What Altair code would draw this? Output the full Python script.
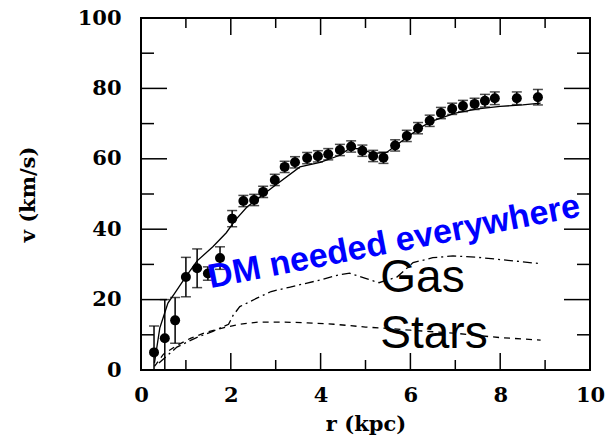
import altair as alt
import pandas as pd

# Observed rotation velocities (km/s) and their uncertainties
r_obs = [0.29, 0.53, 0.76, 1.00, 1.25, 1.49, 1.76, 2.03, 2.28, 2.52, 2.72, 2.98,
         3.20, 3.43, 3.70, 3.94, 4.17, 4.43, 4.68, 4.93, 5.17, 5.40, 5.66, 5.92,
         6.17, 6.43, 6.68, 6.93, 7.17, 7.43, 7.66, 7.88, 8.37, 8.84]
v_obs = [5.0, 9.0, 14.1, 26.4, 28.9, 27.4, 31.8, 43.0, 48.0, 48.3, 50.6, 54.0,
         57.7, 59.0, 60.2, 60.7, 61.3, 62.5, 63.5, 62.3, 60.8, 60.3, 63.8, 66.5,
         68.7, 70.8, 73.0, 74.2, 75.0, 75.6, 76.5, 77.2, 77.2, 77.5]
v_err = [7.5, 11.0, 6.5, 5.6, 5.5, 1.9, 3.2, 2.3, 1.6, 1.6, 1.6, 1.6,
         1.6, 1.6, 1.6, 1.6, 1.6, 1.6, 1.6, 1.6, 1.6, 1.6, 1.6, 1.6,
         1.6, 1.6, 1.6, 1.6, 1.6, 1.6, 1.8, 1.8, 1.8, 2.2]

# Total model fit
r_fit = [0.30, 0.42, 0.60, 0.76, 1.00, 1.25, 1.60, 1.90, 2.10, 2.36, 2.94, 3.54,
         3.99, 4.43, 4.65, 4.90, 5.17, 5.47, 5.70, 6.00, 6.28, 6.50, 7.00, 7.50,
         8.00, 8.50, 8.90]
v_fit = [2.0, 12.0, 19.0, 22.0, 26.5, 31.0, 35.0, 39.0, 42.6, 46.3, 52.0, 57.7,
         59.0, 61.0, 63.0, 62.8, 61.5, 61.8, 64.0, 66.8, 69.3, 70.8, 73.0, 74.2,
         74.9, 75.3, 75.8]

# Gas contribution
r_gas = [0.40, 0.80, 1.20, 1.60, 1.95, 2.05, 2.20, 2.58, 2.90, 3.30, 3.70, 4.00,
         4.40, 4.65, 5.00, 5.30, 5.70, 6.06, 6.50, 6.95, 7.50, 8.06, 8.90]
v_gas = [2.0, 6.5, 9.0, 11.0, 13.0, 15.5, 18.0, 20.4, 22.3, 23.5, 24.7, 25.6,
         27.0, 27.5, 26.0, 24.8, 26.4, 30.5, 31.9, 32.4, 32.0, 31.3, 30.2]

# Stellar contribution
r_star = [0.30, 0.50, 0.80, 1.10, 1.47, 1.90, 2.20, 2.60, 3.20, 3.70, 4.30, 5.00,
          5.50, 6.00, 6.95, 7.50, 8.00, 8.90]
v_star = [1.0, 4.5, 7.0, 9.0, 10.8, 12.2, 13.0, 13.6, 13.6, 13.4, 13.0, 12.2,
          11.8, 11.3, 10.5, 9.8, 9.2, 8.5]

# Axis tick values
x_major = [0, 2, 4, 6, 8, 10]
x_minor = [1, 3, 5, 7, 9]
y_major = [0, 20, 40, 60, 80, 100]
y_minor = [10, 30, 50, 70, 90]

W, H = 449, 352
AXIS_FONT = "DejaVu Serif"

obs = pd.DataFrame({"r": r_obs, "v": v_obs, "err": v_err})
obs["lo"] = obs["v"] - obs["err"]
obs["hi"] = obs["v"] + obs["err"]
fit = pd.DataFrame({"r": r_fit, "v": v_fit})
gas = pd.DataFrame({"r": r_gas, "v": v_gas})
stars = pd.DataFrame({"r": r_star, "v": v_star})

xs = alt.Scale(domain=[0, 10], nice=False, zero=False)
ys = alt.Scale(domain=[0, 100], nice=False, zero=False)

X = alt.X("r:Q", scale=xs, axis=alt.Axis(
    values=x_major, ticks=False, domain=False, grid=False, format="d",
    labelFont=AXIS_FONT, labelFontWeight="bold", labelFontSize=21, labelColor="black",
    labelPadding=14, labelFlush=False,
    title="r (kpc)", titleFont=AXIS_FONT, titleFontWeight="bold", titleFontSize=21,
    titleColor="black", titleY=54, titleBaseline="middle"))
Y = alt.Y("v:Q", scale=ys, axis=alt.Axis(
    values=y_major, ticks=False, domain=False, grid=False, format="d",
    labelFont=AXIS_FONT, labelFontWeight="bold", labelFontSize=21, labelColor="black",
    labelPadding=20, labelFlush=False,
    title="v (km/s)", titleFont=AXIS_FONT, titleFontWeight="bold", titleFontSize=21,
    titleColor="black", titleX=-113, titleY=H / 2, titleBaseline="middle"))

base = alt.Chart(obs)

err_bars = base.mark_rule(color="black", strokeWidth=1.5, clip=True).encode(
    x=X, y=alt.Y("lo:Q", scale=ys), y2="hi:Q")
cap_lo = base.mark_tick(color="black", orient="horizontal", size=10, thickness=1.5,
                        clip=True).encode(x="r:Q", y=alt.Y("lo:Q", scale=ys))
cap_hi = base.mark_tick(color="black", orient="horizontal", size=10, thickness=1.5,
                        clip=True).encode(x="r:Q", y=alt.Y("hi:Q", scale=ys))
points = base.mark_point(filled=True, shape="circle", size=100, color="black", opacity=1).encode(
    x="r:Q", y=Y)

fit_line = alt.Chart(fit).mark_line(color="black", strokeWidth=1.3).encode(
    x="r:Q", y="v:Q")
gas_line = alt.Chart(gas).mark_line(color="black", strokeWidth=1.3,
                                    strokeDash=[9, 4, 2, 4]).encode(x="r:Q", y="v:Q")
star_line = alt.Chart(stars).mark_line(color="black", strokeWidth=1.3,
                                       strokeDash=[6, 5]).encode(x="r:Q", y="v:Q")


def tick_layer(vals, horizontal, p0, p1):
    df = pd.DataFrame({"t": vals})
    if horizontal:
        return alt.Chart(df).mark_rule(color="black", strokeWidth=1.5).encode(
            y=alt.Y("t:Q", scale=ys), x=alt.value(p0), x2=alt.value(p1))
    return alt.Chart(df).mark_rule(color="black", strokeWidth=1.5).encode(
        x=alt.X("t:Q", scale=xs), y=alt.value(p0), y2=alt.value(p1))


ticks = [
    tick_layer(x_major, False, H, H - 17), tick_layer(x_minor, False, H, H - 10),
    tick_layer(x_major, False, 0, 17), tick_layer(x_minor, False, 0, 10),
    tick_layer(y_major, True, 0, 26), tick_layer(y_minor, True, 0, 13),
    tick_layer(y_major, True, W, W - 26), tick_layer(y_minor, True, W, W - 13),
]

# Annotations
dm_text = alt.Chart(pd.DataFrame({"r": [5.68], "v": [33.5], "t": ["DM needed everywhere"]})).mark_text(
    font="Liberation Sans, Arial, sans-serif",
    fontWeight="bold", fontSize=34, color="#0000ff", angle=349,
    align="center", baseline="alphabetic").encode(x="r:Q", y="v:Q", text="t:N")

labels = alt.Chart(pd.DataFrame({"r": [5.33, 5.33], "v": [22.2, 6.3], "t": ["Gas", "Stars"]})).mark_text(
    font="Liberation Sans, Arial, sans-serif", fontSize=46, color="black",
    align="left", baseline="alphabetic").encode(x="r:Q", y="v:Q", text="t:N")

chart = alt.layer(
    star_line, gas_line, fit_line, err_bars, cap_lo, cap_hi, points, *ticks, dm_text, labels
).properties(
    width=W, height=H,
    autosize=alt.AutoSizeParams(type="none"),
    padding={"left": 141, "top": 18, "right": 19, "bottom": 72},
    background="white",
).configure_view(stroke="black", strokeWidth=2)

chart.save("out.html", embed_options={"renderer": "svg", "actions": False})
